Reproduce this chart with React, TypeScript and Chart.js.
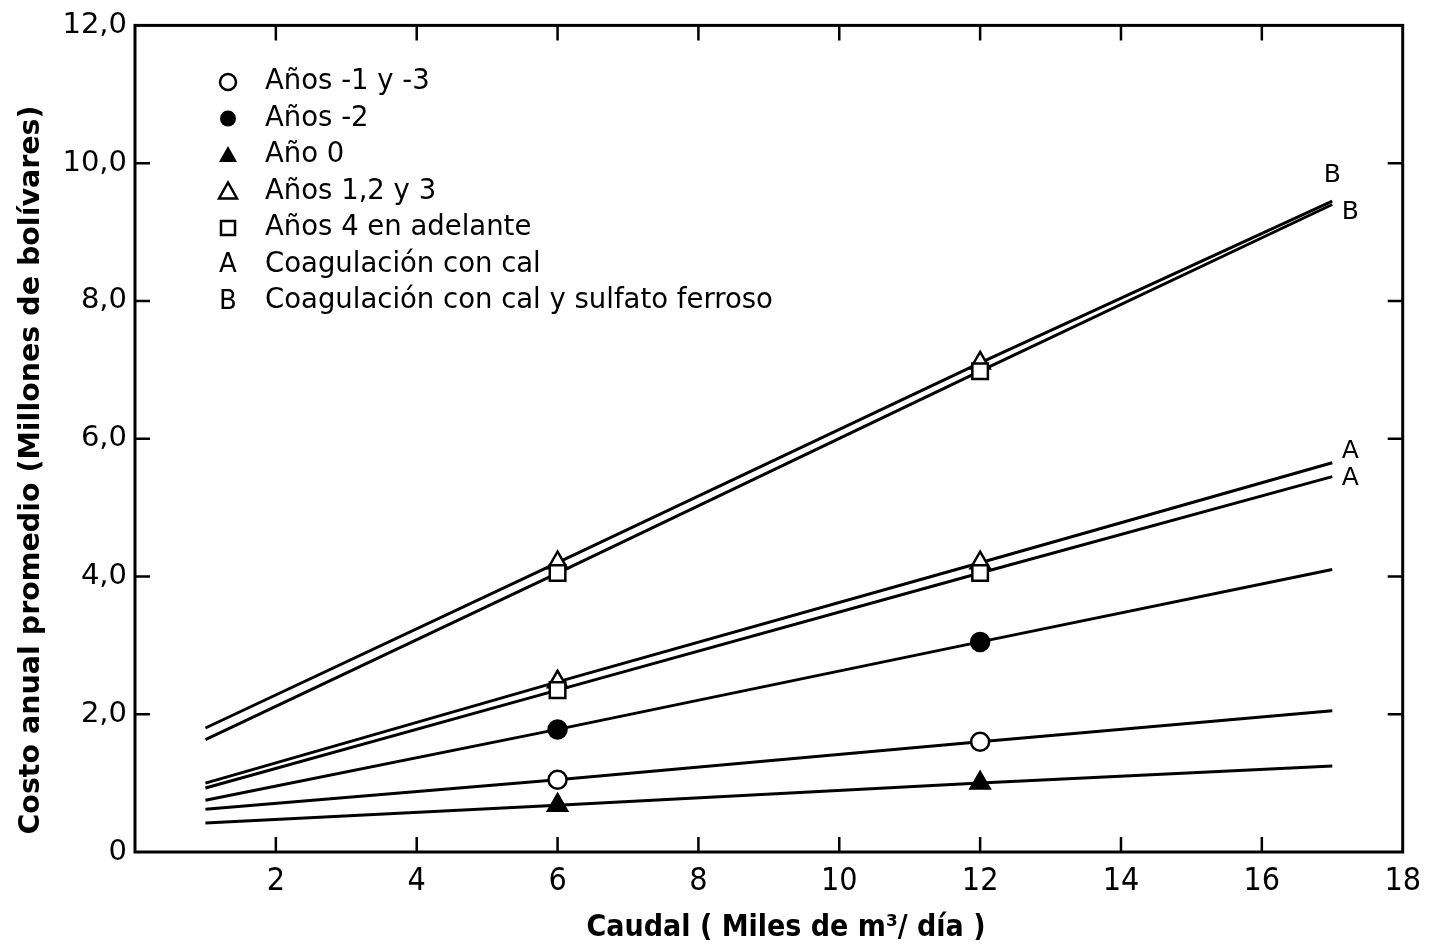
import React, { useEffect, useRef } from "react";
import { Chart, registerables } from "chart.js";

Chart.register(...registerables);

const xValues = [1, 6, 12, 17];
const bTriangle = [1.8, 4.2, 7.1, 9.45];
const bSquare = [1.63, 4.05, 6.98, 9.4];
const aTriangle = [1.0, 2.47, 4.2, 5.65];
const aSquare = [0.93, 2.35, 4.05, 5.45];
const filledCircle = [0.75, 1.78, 3.05, 4.1];
const openCircle = [0.62, 1.05, 1.6, 2.05];
const filledTriangle = [0.42, 0.68, 1.0, 1.25];

const xTickLabels = ["", "2", "4", "6", "8", "10", "12", "14", "16", "18"];
const yTickLabels = ["0", "2,0", "4,0", "6,0", "8,0", "10,0", "12,0"];

const legendLabels = [
  "Años -1 y -3",
  "Años -2",
  "Año 0",
  "Años 1,2 y 3",
  "Años 4 en adelante",
  "Coagulación con cal",
  "Coagulación con cal y sulfato ferroso",
];
const legendSymbols = ["openCircle", "filledCircle", "filledTriangle", "openTriangle", "openSquare", "A", "B"];

const xTitle = "Caudal ( Miles de m³/ día )";
const yTitle = "Costo anual promedio (Millones de bolívares)";

const FONT = "'DejaVu Sans', 'Liberation Sans', sans-serif";
const NARROW = "'Liberation Sans Narrow', 'DejaVu Sans Condensed', 'Liberation Sans', sans-serif";

function toPoints(ys: number[]) {
  return xValues.map((x, i) => ({ x, y: ys[i] }));
}

function drawSymbol(ctx: CanvasRenderingContext2D, kind: string, x: number, y: number) {
  ctx.save();
  ctx.lineWidth = 2.5;
  ctx.strokeStyle = "#000";
  ctx.fillStyle = "#000";
  if (kind === "openCircle" || kind === "filledCircle") {
    ctx.beginPath();
    ctx.arc(x, y, 8, 0, Math.PI * 2);
    if (kind === "filledCircle") ctx.fill();
    else ctx.stroke();
  } else if (kind === "openTriangle" || kind === "filledTriangle") {
    ctx.beginPath();
    ctx.moveTo(x, y - 9);
    ctx.lineTo(x + 9, y + 7);
    ctx.lineTo(x - 9, y + 7);
    ctx.closePath();
    if (kind === "filledTriangle") ctx.fill();
    else ctx.stroke();
  } else if (kind === "openSquare") {
    ctx.strokeRect(x - 7, y - 7, 14, 14);
  } else {
    ctx.font = `26px ${FONT}`;
    ctx.textAlign = "center";
    ctx.textBaseline = "middle";
    ctx.fillText(kind, x, y + 1);
  }
  ctx.restore();
}

const framePlugin = {
  id: "framePlugin",
  afterDraw(chart: any) {
    const ctx: CanvasRenderingContext2D = chart.ctx;
    const { left, right, top, bottom } = chart.chartArea;
    const xs = chart.scales.x;
    const ys = chart.scales.y;
    ctx.save();
    ctx.strokeStyle = "#000";
    ctx.lineWidth = 3;
    ctx.strokeRect(left, top, right - left, bottom - top);
    ctx.lineWidth = 2.5;
    const tl = 15;
    for (let v = 2; v < 18; v += 2) {
      const px = xs.getPixelForValue(v);
      ctx.beginPath();
      ctx.moveTo(px, bottom);
      ctx.lineTo(px, bottom - tl);
      ctx.moveTo(px, top);
      ctx.lineTo(px, top + tl);
      ctx.stroke();
    }
    for (let v = 2; v < 12; v += 2) {
      const py = ys.getPixelForValue(v);
      ctx.beginPath();
      ctx.moveTo(left, py);
      ctx.lineTo(left + tl, py);
      ctx.moveTo(right, py);
      ctx.lineTo(right - tl, py);
      ctx.stroke();
    }

    // legend
    ctx.fillStyle = "#000";
    ctx.font = `27.5px ${FONT}`;
    ctx.textBaseline = "middle";
    ctx.textAlign = "left";
    legendLabels.forEach((lab, i) => {
      const y = 82 + i * 36.5;
      drawSymbol(ctx, legendSymbols[i], 228, y);
      ctx.fillText(lab, 265, y);
    });

    // end labels
    const endX = xs.getPixelForValue(xValues[xValues.length - 1]);
    ctx.font = `25px ${FONT}`;
    ctx.textAlign = "center";
    const last = (arr: number[]) => ys.getPixelForValue(arr[arr.length - 1]);
    ctx.fillText("B", endX, last(bTriangle) - 26);
    ctx.fillText("B", endX + 18, last(bSquare) + 8);
    ctx.fillText("A", endX + 18, last(aTriangle) - 11);
    ctx.fillText("A", endX + 18, last(aSquare) + 2);

    // axis titles
    ctx.font = `bold 30px ${NARROW}`;
    ctx.textAlign = "center";
    ctx.fillText(xTitle, 786, 928);
    ctx.save();
    ctx.translate(32, 470);
    ctx.rotate(-Math.PI / 2);
    ctx.font = `bold 28.5px ${FONT}`;
    ctx.fillText(yTitle, 0, 0);
    ctx.restore();
    ctx.restore();
  },
};

export default function App() {
  const ref = useRef<HTMLCanvasElement | null>(null);
  useEffect(() => {
    if (!ref.current) return;
    const line = (data: number[], style: any, filled: boolean, r: number) => ({
      data: toPoints(data),
      borderColor: "#000",
      borderWidth: 3,
      pointStyle: style,
      pointRadius: [0, r, r, 0],
      pointBackgroundColor: filled ? "#000" : "#fff",
      pointBorderColor: "#000",
      pointBorderWidth: 2.5,
      tension: 0,
      fill: false,
    });
    const chart = new Chart(ref.current, {
      type: "line",
      data: {
        datasets: [
          line(bSquare, "rect", false, 11),
          line(bTriangle, "triangle", false, 11),
          line(aSquare, "rect", false, 11),
          line(aTriangle, "triangle", false, 11),
          line(filledCircle, "circle", true, 9),
          line(openCircle, "circle", false, 9),
          line(filledTriangle, "triangle", true, 11),
        ],
      },
      options: {
        responsive: false,
        animation: false,
        layout: { padding: { top: 25, right: 28, left: 0, bottom: 0 } },
        plugins: { legend: { display: false }, tooltip: { enabled: false } },
        scales: {
          x: {
            type: "linear",
            min: 0,
            max: 18,
            afterFit: (s: any) => {
              s.height = 95;
            },
            grid: { display: false, drawTicks: false },
            border: { display: false },
            ticks: {
              stepSize: 2,
              padding: 10,
              color: "#000",
              font: { family: NARROW, size: 32 },
              callback: (v: any) => xTickLabels[Math.round(Number(v) / 2)] ?? "",
              maxRotation: 0,
            },
          },
          y: {
            type: "linear",
            min: 0,
            max: 12,
            afterFit: (s: any) => {
              s.width = 135;
            },
            grid: { display: false, drawTicks: false },
            border: { display: false },
            ticks: {
              stepSize: 2,
              padding: 8,
              color: "#000",
              font: { family: FONT, size: 29 },
              callback: (v: any) => yTickLabels[Math.round(Number(v) / 2)] ?? "",
            },
          },
        },
      },
      plugins: [framePlugin],
    } as any);
    return () => chart.destroy();
  }, []);
  return (
    <div style={{ position: "absolute", left: 0, top: 0, width: 1431, height: 947, background: "#fff" }}>
      <canvas ref={ref} width={1431} height={947} style={{ display: "block" }} />
    </div>
  );
}
